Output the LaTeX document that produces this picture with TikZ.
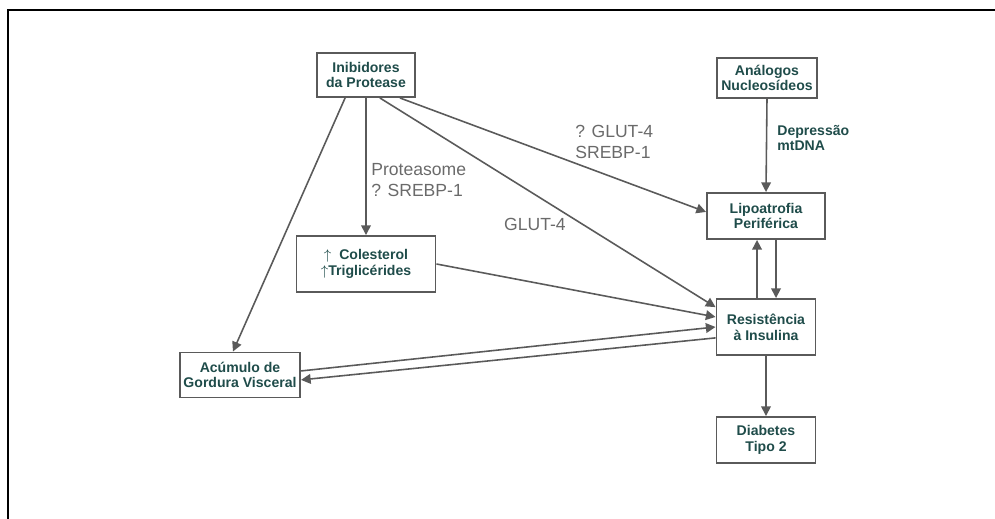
\documentclass[tikz,border=0pt]{standalone}
\usepackage{fontspec}
\setmainfont{Liberation Sans}
\usetikzlibrary{arrows.meta}
\definecolor{CBoxGray}{HTML}{5A5A5A}
\definecolor{CTeal}{HTML}{1F4C4A}
\definecolor{CLabelGray}{HTML}{6A6A6A}

\begin{document}
\begin{tikzpicture}[
    x=0.02cm, y=-0.02cm,
    box/.style={draw=CBoxGray, line width=1.1pt, fill=white, text=CTeal, align=center,
      inner sep=2pt, font=\bfseries\fontsize{8}{9}\selectfont},
    link/.style={draw=CBoxGray, line width=0.9pt, -{Triangle[length=5.5pt, width=5.5pt]}},
    lbl/.style={text=CLabelGray, font=\fontsize{10}{11.5}\selectfont, inner sep=0pt},
    note/.style={text=CTeal, font=\bfseries\fontsize{8}{9}\selectfont, inner sep=0pt, align=left}
]
  \useasboundingbox (0,0) rectangle (995,519);
  \draw[line width=1.2pt] (8,519) -- (8,10) -- (995,10);

  \node[box, minimum width=1.96cm, minimum height=0.88cm] (inib) at (366,75) {Inibidores\\da Protease};
  \node[box, minimum width=2.0cm, minimum height=0.8cm] (analog) at (767,78) {Análogos\\Nucleosídeos};
  \node[box, minimum width=2.36cm, minimum height=0.92cm] (lipo) at (766,216) {Lipoatrofia\\Periférica};
  \node[box, minimum width=1.98cm, minimum height=1.12cm] (res) at (766,327) {Resistência\\à Insulina};
  \node[box, minimum width=1.98cm, minimum height=0.92cm] (diab) at (766,440) {Diabetes\\Tipo 2};
  \node[box, minimum width=2.78cm, minimum height=1.12cm] (col) at (366,264) {$\uparrow$\ \ Colesterol\\$\uparrow$Triglicérides};
  \node[box, minimum width=2.34cm, minimum height=0.9cm] (acu) at (240,375) {Acúmulo de\\Gordura Visceral};

  % labels on the links
  \node[lbl, align=left, anchor=west] (lprot) at (371,180) {Proteasome\\? SREBP-1};
  \node[lbl, align=left, anchor=west] (lglut) at (575,142) {? GLUT-4\\SREBP-1};
  \node[lbl] (lglutb) at (535,224) {GLUT-4};
  \node[note, anchor=west] (ldep) at (777,138) {Depressão\\mtDNA};

  % links
  \draw[link] (inib.south) -- (col.north);
  \draw[link] ([xshift=-11.9pt]inib.south) -- ([xshift=-4pt]acu.north);
  \draw[link] ([xshift=19.3pt]inib.south) -- ([yshift=2.3pt]lipo.west);
  \draw[link] ([xshift=7.9pt]inib.south) -- ([yshift=11.3pt]res.west);
  \draw[link] (col.east) -- ([yshift=5.7pt]res.west);
  \draw[link] ([yshift=2.3pt]acu.east) -- (res.west);
  \draw[link] ([yshift=-6.2pt]res.west) -- ([yshift=-2.8pt]acu.east);
  \draw[link] (analog.south) -- (lipo.north);
  \draw[link] ([xshift=-5.1pt]res.north) -- ([xshift=-5.1pt]lipo.south);
  \draw[link] ([xshift=5.7pt]lipo.south) -- ([xshift=5.7pt]res.north);
  \draw[link] (res.south) -- (diab.north);
\end{tikzpicture}
\end{document}
